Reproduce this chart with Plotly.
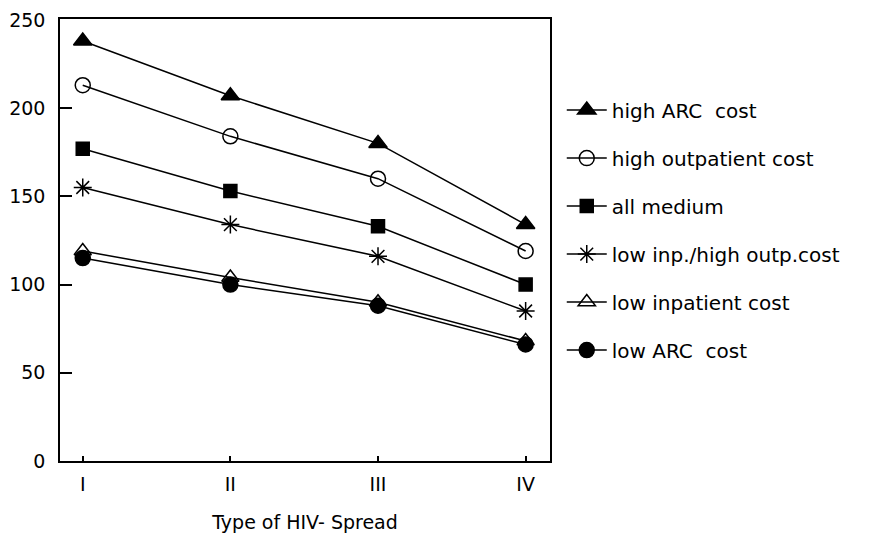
import plotly.graph_objects as go

categories = ["I", "II", "III", "IV"]
series_names = ["high ARC  cost", "high outpatient cost", "all medium",
                "low inp./high outp.cost", "low inpatient cost", "low ARC  cost"]
high_arc = [238, 207, 180, 134]
high_outp = [213, 184, 160, 119]
all_medium = [177, 153, 133, 100]
low_inp_high_outp = [155, 134, 116, 85]
low_inp = [119, 104, 90, 68]
low_arc = [115, 100, 88, 66]
y_ticks = [0, 50, 100, 150, 200, 250]
x_title = "Type of HIV- Spread"

series_values = [high_arc, high_outp, all_medium, low_inp_high_outp, low_inp, low_arc]
symbols = ["triangle-up", "circle-open", "square", "asterisk-open", "triangle-up-open", "circle"]
sizes = [16, 15, 13, 15, 15, 15]

fig = go.Figure()
for i, (name, vals) in enumerate(zip(series_names, series_values)):
    fig.add_trace(go.Scatter(
        x=categories, y=vals, name=name, mode="lines+markers",
        legendgroup=f"g{i}",
        line=dict(color="black", width=1.5),
        marker=dict(symbol=symbols[i], size=sizes[i], color="black",
                    line=dict(color="black", width=1.5)),
    ))

font_family = "DejaVu Sans"
fig.update_layout(
    width=876, height=534,
    margin=dict(l=52, r=334, t=11, b=81),
    paper_bgcolor="white", plot_bgcolor="white",
    font=dict(family=font_family, size=19, color="black"),
    showlegend=True,
    legend=dict(x=1.024, xanchor="left", y=0.838, yanchor="top",
                traceorder="grouped", tracegroupgap=19, itemwidth=40,
                font=dict(size=20, family=font_family),
                bgcolor="rgba(0,0,0,0)"),
    xaxis=dict(type="category", range=[-0.154, 3.165], showgrid=False,
               showline=True, linecolor="black", linewidth=1.5, mirror=True,
               ticks="inside", ticklen=5, tickcolor="black", tickwidth=1.5,
               tickfont=dict(size=19), zeroline=False, ticklabelstandoff=5,
               automargin=False,
               title=dict(text=x_title, font=dict(size=19), standoff=22)),
    yaxis=dict(range=[0, 250.5], tickvals=y_ticks, showgrid=False,
               showline=True, linecolor="black", linewidth=1.5, mirror=True,
               ticks="inside", ticklen=12, tickcolor="black", tickwidth=1.5,
               tickfont=dict(size=19), zeroline=False, ticklabelstandoff=9,
               automargin=False),
)

fig.write_html("out.html")
